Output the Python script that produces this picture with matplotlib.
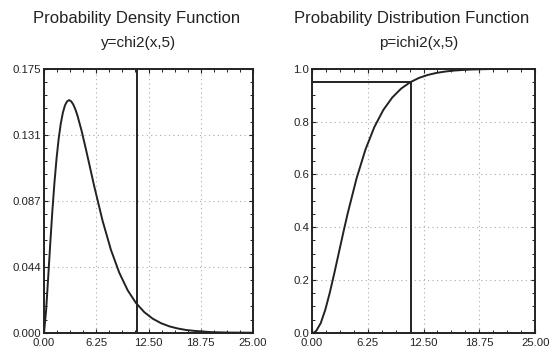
import numpy as np
import matplotlib
matplotlib.use("Agg")
from matplotlib import pyplot as plt
from matplotlib.ticker import MultipleLocator

plt.rcParams['font.family'] = ['Liberation Sans', 'DejaVu Sans']

# values (chi-square, 5 d.o.f.)
pdf_x = [0.0, 0.25, 0.5, 0.75, 1.0, 1.25, 1.5, 1.75, 2.0, 2.25, 2.5, 2.75,
         3.0, 3.25, 3.5, 3.75, 4.0, 4.5, 5.0, 5.5, 6.0, 7.0, 8.0, 9.0, 10.0,
         11.0, 12.0, 13.0, 14.0, 15.0, 16.0, 17.0, 18.0, 20.0, 22.0, 25.0]
pdf_vals = [0.0, 0.0147, 0.0366, 0.0594, 0.0807, 0.0995, 0.1154, 0.1284,
            0.1384, 0.1457, 0.1506, 0.1533, 0.1542, 0.1534, 0.1513, 0.1481,
            0.1440, 0.1338, 0.1220, 0.1097, 0.0973, 0.0744, 0.0551, 0.0399,
            0.0283, 0.0198, 0.0137, 0.0094, 0.0064, 0.0043, 0.0029, 0.0019,
            0.0013, 0.0005, 0.0002, 0.0001]
cdf_x = [0.0, 0.25, 0.5, 1.0, 1.5, 2.0, 2.5, 3.0, 3.5, 4.0, 5.0, 6.0, 7.0,
         8.0, 9.0, 10.0, 11.0, 12.0, 13.0, 14.0, 15.0, 16.0, 17.0, 18.0,
         20.0, 22.0, 25.0]
cdf_vals = [0.0, 0.0011, 0.0079, 0.0374, 0.0869, 0.1509, 0.2235, 0.3000,
            0.3766, 0.4506, 0.5841, 0.6938, 0.7794, 0.8438, 0.8909, 0.9248,
            0.9486, 0.9652, 0.9766, 0.9844, 0.9896, 0.9932, 0.9955, 0.9971,
            0.9988, 0.9995, 0.9999]
x_crit = 11.07
p_crit = 0.95

x_ticks = [0.0, 6.25, 12.5, 18.75, 25.0]
x_labels = ["0.00", "6.25", "12.50", "18.75", "25.00"]
pdf_ticks = [0.0, 0.04375, 0.0875, 0.13125, 0.175]
pdf_labels = ["0.000", "0.044", "0.087", "0.131", "0.175"]
cdf_ticks = [0.0, 0.2, 0.4, 0.6, 0.8, 1.0]
cdf_labels = ["0.0", "0.2", "0.4", "0.6", "0.8", "1.0"]

ink = "#222222"
fig = plt.figure(figsize=(5.5, 3.56), dpi=100)
ax1 = fig.add_axes([0.080, 0.065, 0.380, 0.742])
ax2 = fig.add_axes([0.567, 0.065, 0.406, 0.742])

def style(ax, yticks, ylabels, yminor):
    ax.set_xlim(0, 25)
    ax.set_ylim(yticks[0], yticks[-1])
    ax.set_xticks(x_ticks)
    ax.set_xticklabels(x_labels)
    ax.set_yticks(yticks)
    ax.set_yticklabels(ylabels)
    ax.xaxis.set_minor_locator(MultipleLocator(1.5625))
    ax.yaxis.set_minor_locator(MultipleLocator(yminor))
    ax.tick_params(which='both', direction='in', top=True, right=True,
                   colors=ink, labelsize=8.2)
    ax.tick_params(which='major', length=3, width=0.8)
    ax.tick_params(which='minor', length=2, width=0.7)
    ax.tick_params(axis='x', pad=4)
    ax.tick_params(axis='y', pad=2)
    for s in ax.spines.values():
        s.set_linewidth(1.4)
        s.set_color(ink)
    ax.grid(True, which='major', color='#aaaaaa', linestyle=(0, (1, 3)),
            linewidth=0.8)

ax1.plot(pdf_x, pdf_vals, color=ink, lw=1.4)
ax1.axvline(x_crit, color=ink, lw=1.4)
style(ax1, pdf_ticks, pdf_labels, 0.175 / 20)

ax2.plot(cdf_x, cdf_vals, color=ink, lw=1.4)
ax2.plot([x_crit, x_crit], [0, p_crit], color=ink, lw=1.4)
ax2.plot([0, x_crit], [p_crit, p_crit], color=ink, lw=1.4)
style(ax2, cdf_ticks, cdf_labels, 0.05)

fig.text(0.248, 0.949, "Probability Density Function", ha='center',
         va='center', fontsize=12, color=ink)
fig.text(0.251, 0.879, "y=chi2(x,5)", ha='center', va='center',
         fontsize=11, color=ink)
fig.text(0.749, 0.949, "Probability Distribution Function", ha='center',
         va='center', fontsize=12, color=ink)
fig.text(0.762, 0.879, "p=ichi2(x,5)", ha='center', va='center',
         fontsize=11, color=ink)

fig.savefig("out.png", dpi=100)
